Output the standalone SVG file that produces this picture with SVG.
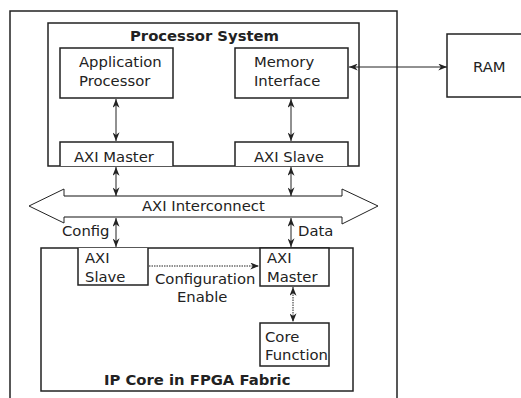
<svg xmlns="http://www.w3.org/2000/svg" width="521" height="398" viewBox="0 0 521 398">
<defs>
<marker id="ah" viewBox="0 0 10 8" refX="10" refY="4" markerWidth="9" markerHeight="7" markerUnits="userSpaceOnUse" orient="auto-start-reverse">
<path d="M0,0 L10,4 L0,8 L3,4 z" fill="#222"/>
</marker>
<style>
.box{fill:#fff;stroke:#222;stroke-width:1.5}
.frame{fill:none;stroke:#222;stroke-width:1.5}
text{font-family:"DejaVu Sans",Verdana,sans-serif;font-size:14.8px;fill:#222}
.b{font-weight:bold}
.c{fill:none;stroke:#222;stroke-width:1;marker-start:url(#ah);marker-end:url(#ah)}
.d{fill:none;stroke:#222;stroke-width:1;stroke-dasharray:1.5 1;marker-end:url(#ah)}
.d2{fill:none;stroke:#222;stroke-width:1;stroke-dasharray:1.5 1;marker-start:url(#ah);marker-end:url(#ah)}
</style>
</defs>
<rect width="521" height="398" fill="#fff"/>
<g id="outer"><path class="frame" d="M10,398 V11 H397 V398"/></g>
<g id="ram"><rect class="box" x="447" y="34" width="90" height="63"/><text x="473" y="72">RAM</text></g>
<g id="ps">
<rect class="box" x="48" y="23" width="311" height="143"/>
<text class="b" x="130" y="41">Processor System</text>
</g>
<g id="app"><rect class="box" x="60" y="48" width="113" height="50"/><text x="79" y="67">Application</text><text x="79" y="86">Processor</text></g>
<g id="mem"><rect class="box" x="235" y="48" width="113" height="50"/><text x="254" y="67">Memory</text><text x="254" y="86">Interface</text></g>
<g id="psmaster"><path class="box" d="M60,166 V142 H173 V166"/><text x="74" y="162">AXI Master</text></g>
<g id="psslave"><path class="box" d="M235,166 V142 H348 V166"/><text x="254" y="162">AXI Slave</text></g>
<g id="interconnect">
<polygon points="64,196 342,196 342,189 378,206 342,224 342,217 64,217 64,223 29,206 64,189" fill="#fff" stroke="none"/>
<path d="M64,196 H342 M64,217 H342" stroke="#888" stroke-width="2" fill="none"/>
<path d="M64,196 V189 L29,206 L64,223 V217 M342,196 V189 L378,206 L342,224 V217" stroke="#222" stroke-width="1" fill="none"/>
<text x="142" y="211">AXI Interconnect</text>
</g>
<g id="ip">
<rect class="box" x="41" y="248" width="312" height="143"/>
<text class="b" x="104" y="385">IP Core in FPGA Fabric</text>
</g>
<g id="ipslave"><path class="box" d="M78,248 V285 H148 V248"/><text x="85" y="263">AXI</text><text x="85" y="282">Slave</text></g>
<g id="ipmaster"><rect class="box" x="260" y="248" width="69" height="38"/><text x="267" y="263">AXI</text><text x="267" y="282">Master</text></g>
<g id="core"><rect class="box" x="260" y="323" width="69" height="43"/><text x="265" y="342">Core</text><text x="265" y="360">Function</text></g>
<g id="connectors">
<line class="c" x1="116" y1="99" x2="116" y2="141"/>
<line class="c" x1="291" y1="99" x2="291" y2="141"/>
<line class="c" x1="116" y1="167" x2="116" y2="196"/>
<line class="c" x1="291" y1="167" x2="291" y2="196"/>
<line class="c" x1="116" y1="218" x2="116" y2="247"/>
<line class="c" x1="291" y1="218" x2="291" y2="247"/>
<line class="c" x1="349" y1="67" x2="447" y2="67"/>
<line class="d" x1="149" y1="266" x2="259" y2="266"/>
<line class="d2" x1="293" y1="287" x2="293" y2="322"/>
</g>
<g id="labels">
<text x="62" y="236">Config</text>
<text x="298" y="236">Data</text>
<text x="155" y="284">Configuration</text>
<text x="177" y="302">Enable</text>
</g>
</svg>
